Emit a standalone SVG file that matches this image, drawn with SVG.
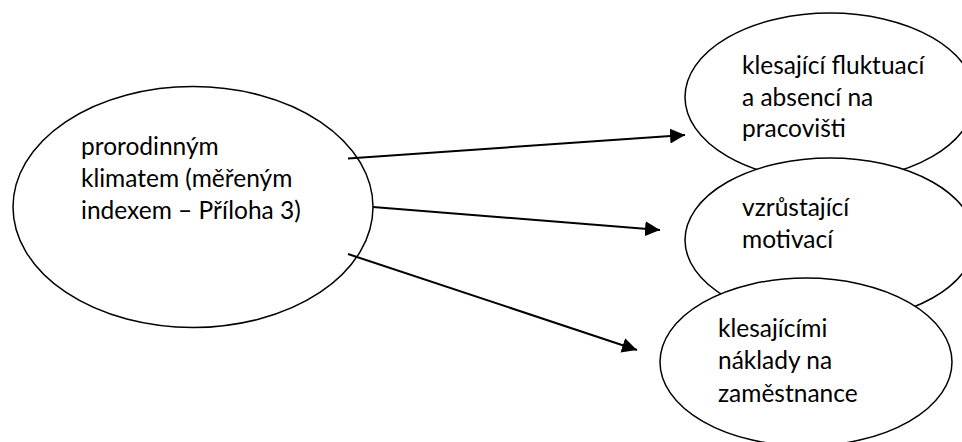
<svg xmlns="http://www.w3.org/2000/svg" width="962" height="442" viewBox="0 0 962 442">
  <defs>
    <style>
      .node { fill: #ffffff; stroke: #000000; stroke-width: 1.5; }
      .label { font-family: "Lato", "Open Sans", "Liberation Sans", sans-serif; font-size: 24.5px; fill: #000000; }
      .edge { stroke: #000000; stroke-width: 2; fill: none; marker-end: url(#arrow); }
    </style>
    <marker id="arrow" markerUnits="userSpaceOnUse" markerWidth="16" markerHeight="16" refX="15" refY="7.5" orient="auto">
      <path d="M0,0 L15,7.5 L0,15 z" fill="#000000"/>
    </marker>
  </defs>
  <rect width="962" height="442" fill="#ffffff"/>

  <g id="node-source">
    <ellipse class="node" cx="193" cy="207" rx="180" ry="120.5"/>
    <text class="label" x="81" y="155">prorodinným</text>
    <text class="label" x="81" y="187">klimatem (měřeným</text>
    <text class="label" x="81" y="219">indexem – Příloha 3)</text>
  </g>

  <g id="node-fluktuace">
    <ellipse class="node" cx="830" cy="97" rx="145" ry="84"/>
    <text class="label" x="742" y="74">klesající fluktuací</text>
    <text class="label" x="742" y="105.5">a absencí na</text>
    <text class="label" x="742" y="137">pracovišti</text>
  </g>

  <g id="node-motivace">
    <ellipse class="node" cx="830" cy="240" rx="145" ry="82"/>
    <text class="label" x="742" y="216">vzrůstající</text>
    <text class="label" x="742" y="248">motivací</text>
  </g>

  <g id="node-naklady">
    <ellipse class="node" cx="806" cy="362" rx="146" ry="84"/>
    <text class="label" x="718" y="337">klesajícími</text>
    <text class="label" x="718" y="369">náklady na</text>
    <text class="label" x="718" y="402">zaměstnance</text>
  </g>

  <g id="connectors">
    <line class="edge" x1="348" y1="158.5" x2="685" y2="135"/>
    <line class="edge" x1="373" y1="207" x2="660" y2="230"/>
    <line class="edge" x1="348" y1="254" x2="637" y2="350"/>
  </g>
</svg>
